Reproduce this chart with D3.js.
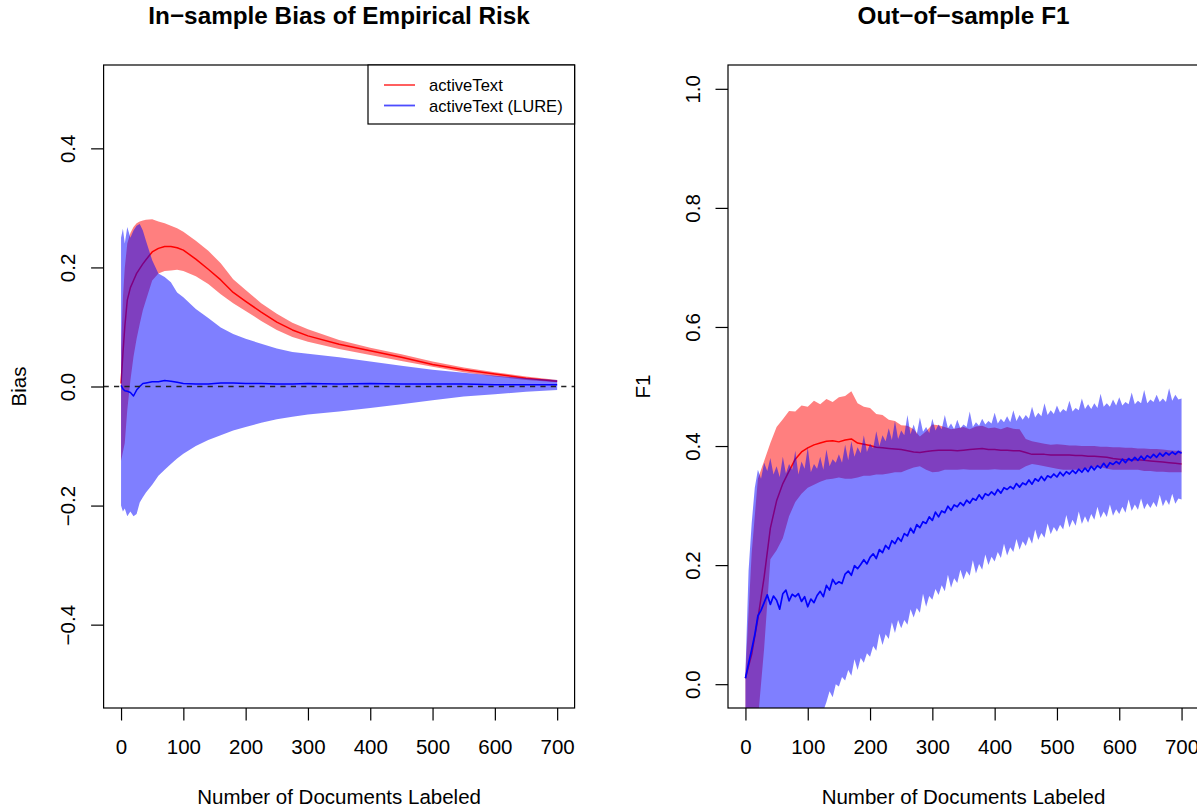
<!DOCTYPE html>
<html><head><meta charset="utf-8">
<script src="https://cdn.jsdelivr.net/npm/d3@7"></script>
<style>
body{margin:0;background:#fff}
svg{display:block}
text{font-family:"Liberation Sans",Arial,Helvetica,sans-serif;fill:#000}
</style>
</head><body>
<svg id="c" width="1197" height="808"></svg>
<script>
// ---------------- DATA ----------------
const xTicks = [0,100,200,300,400,500,600,700];
const leftYTicks = [-0.4,-0.2,0.0,0.2,0.4];
const rightYTicks = [0.0,0.2,0.4,0.6,0.8,1.0];
const legendLabels = ["activeText","activeText (LURE)"];

// Left panel: in-sample bias
const docsLeft = [0,3,6,10,15,20,25,30,35,40,50,60,70,80,90,100,120,140,160,180,200,225,250,275,300,350,400,450,500,550,600,650,700];
const leftRedMean  = [0.005,0.055,0.10,0.145,0.166,0.178,0.19,0.198,0.206,0.213,0.226,0.232,0.235,0.235,0.233,0.229,0.214,0.197,0.179,0.158,0.143,0.125,0.108,0.095,0.085,0.071,0.06,0.049,0.037,0.028,0.021,0.014,0.009];
const leftRedUpper = [0.06,0.15,0.2,0.24,0.258,0.268,0.274,0.277,0.279,0.28,0.281,0.277,0.274,0.27,0.266,0.26,0.245,0.228,0.207,0.18,0.162,0.14,0.122,0.107,0.096,0.078,0.065,0.054,0.042,0.032,0.024,0.017,0.011];
const leftRedLower = [-0.125,-0.11,-0.095,-0.04,0.01,0.05,0.08,0.105,0.128,0.145,0.178,0.19,0.194,0.195,0.196,0.194,0.185,0.172,0.155,0.14,0.127,0.11,0.095,0.083,0.075,0.063,0.053,0.043,0.033,0.024,0.017,0.011,0.007];
const leftBlueMean  = [0.002,-0.004,-0.007,-0.008,-0.01,-0.016,-0.006,0.0,0.005,0.006,0.008,0.008,0.01,0.009,0.007,0.005,0.004,0.004,0.006,0.006,0.005,0.005,0.004,0.004,0.005,0.004,0.005,0.004,0.004,0.004,0.003,0.003,0.003];
const leftBlueUpper = [0.25,0.265,0.24,0.268,0.25,0.262,0.27,0.273,0.262,0.245,0.212,0.19,0.184,0.175,0.158,0.15,0.13,0.115,0.099,0.088,0.08,0.072,0.064,0.058,0.055,0.049,0.042,0.035,0.028,0.023,0.018,0.014,0.011];
const leftBlueLower = [-0.20,-0.21,-0.205,-0.218,-0.21,-0.218,-0.214,-0.195,-0.186,-0.178,-0.165,-0.15,-0.14,-0.13,-0.121,-0.113,-0.1,-0.09,-0.082,-0.074,-0.068,-0.061,-0.055,-0.051,-0.047,-0.042,-0.036,-0.03,-0.023,-0.017,-0.013,-0.009,-0.006];

// Right panel: out-of-sample F1
const docsStep10 = d3.range(0, 701, 10);
const docsStep5 = d3.range(0, 701, 5);
const rightRedMean = [
 0.01,0.05,0.11,0.18,0.262,0.308,0.337,0.358,0.378,0.39,
 0.397,0.402,0.405,0.408,0.409,0.407,0.41,0.412,0.405,0.403,
 0.401,0.398,0.397,0.396,0.395,0.394,0.392,0.39,0.389,0.391,
 0.392,0.393,0.393,0.393,0.392,0.393,0.394,0.395,0.396,0.394,
 0.394,0.393,0.393,0.392,0.392,0.389,0.386,0.386,0.386,0.385,
 0.385,0.385,0.385,0.384,0.384,0.383,0.383,0.382,0.381,0.379,
 0.378,0.377,0.377,0.377,0.376,0.375,0.374,0.373,0.372,0.371,
 0.37];
const rightRedUpper = [
 0.02,0.22,0.345,0.375,0.405,0.432,0.445,0.459,0.458,0.468,
 0.466,0.476,0.47,0.479,0.474,0.482,0.484,0.492,0.472,0.466,
 0.464,0.454,0.452,0.444,0.442,0.435,0.434,0.428,0.416,0.425,
 0.436,0.435,0.432,0.428,0.43,0.432,0.428,0.433,0.434,0.43,
 0.431,0.428,0.432,0.429,0.428,0.412,0.408,0.406,0.404,0.402,
 0.403,0.402,0.401,0.401,0.4,0.4,0.4,0.399,0.399,0.398,
 0.398,0.397,0.397,0.396,0.396,0.395,0.395,0.394,0.393,0.392,
 0.392];
const rightRedLower = [
 -0.15,-0.09,-0.06,0.06,0.21,0.225,0.245,0.282,0.306,0.32,
 0.33,0.335,0.34,0.344,0.345,0.347,0.345,0.345,0.347,0.35,
 0.35,0.352,0.352,0.354,0.356,0.356,0.36,0.364,0.366,0.36,
 0.356,0.357,0.36,0.36,0.36,0.361,0.36,0.36,0.36,0.36,
 0.361,0.36,0.36,0.36,0.36,0.366,0.37,0.368,0.366,0.364,
 0.362,0.36,0.36,0.36,0.36,0.362,0.364,0.365,0.362,0.36,
 0.36,0.36,0.36,0.36,0.358,0.358,0.357,0.357,0.356,0.356,
 0.356];
const rightBlueMean = [
 0.010,0.035,0.058,0.083,0.115,0.124,0.137,0.150,0.134,0.148,
 0.141,0.126,0.152,0.158,0.140,0.151,0.147,0.152,0.139,0.147,
 0.130,0.143,0.137,0.149,0.156,0.147,0.166,0.158,0.176,0.168,
 0.172,0.169,0.185,0.190,0.183,0.199,0.194,0.201,0.209,0.202,
 0.213,0.219,0.211,0.226,0.221,0.233,0.227,0.241,0.236,0.246,
 0.240,0.253,0.249,0.262,0.254,0.268,0.263,0.273,0.270,0.281,
 0.275,0.289,0.281,0.291,0.288,0.299,0.292,0.301,0.298,0.305,
 0.300,0.309,0.304,0.312,0.309,0.318,0.311,0.320,0.317,0.323,
 0.318,0.327,0.321,0.330,0.327,0.332,0.328,0.337,0.331,0.338,
 0.335,0.343,0.336,0.345,0.341,0.349,0.342,0.350,0.347,0.353,
 0.348,0.356,0.350,0.357,0.353,0.359,0.354,0.361,0.356,0.363,
 0.357,0.366,0.360,0.367,0.363,0.371,0.364,0.372,0.369,0.374,
 0.370,0.378,0.372,0.379,0.375,0.381,0.376,0.383,0.377,0.384,
 0.380,0.386,0.381,0.388,0.383,0.389,0.385,0.390,0.386,0.391,
 0.388];
const rightBlueUpper = [
 0.02,0.19,0.27,0.33,0.36,0.345,0.372,0.358,0.38,0.352,
 0.366,0.348,0.382,0.354,0.37,0.36,0.392,0.352,0.374,0.362,
 0.398,0.356,0.37,0.362,0.382,0.36,0.394,0.366,0.378,0.372,
 0.386,0.372,0.402,0.376,0.408,0.382,0.398,0.388,0.418,0.39,
 0.404,0.396,0.425,0.40,0.418,0.408,0.43,0.41,0.442,0.412,
 0.426,0.418,0.452,0.42,0.436,0.42,0.448,0.424,0.432,0.422,
 0.446,0.426,0.436,0.428,0.452,0.43,0.438,0.428,0.444,0.43,
 0.436,0.432,0.458,0.432,0.44,0.434,0.446,0.436,0.442,0.438,
 0.456,0.438,0.446,0.44,0.45,0.44,0.46,0.442,0.452,0.444,
 0.452,0.446,0.466,0.448,0.456,0.45,0.472,0.452,0.46,0.454,
 0.468,0.456,0.462,0.458,0.476,0.458,0.464,0.46,0.48,0.462,
 0.47,0.462,0.472,0.464,0.488,0.466,0.472,0.466,0.478,0.468,
 0.482,0.468,0.474,0.47,0.49,0.47,0.476,0.472,0.494,0.472,
 0.478,0.474,0.486,0.474,0.48,0.474,0.497,0.476,0.486,0.478,
 0.48];
const rightBlueLower = [
 -0.30,-0.28,-0.26,-0.25,-0.24,-0.22,-0.21,-0.20,-0.19,-0.18,
 -0.17,-0.16,-0.15,-0.14,-0.13,-0.125,-0.115,-0.11,-0.10,-0.095,
 -0.085,-0.08,-0.07,-0.065,-0.05,-0.045,-0.03,-0.012,-0.022,0.0,
 -0.004,0.012,0.006,0.024,0.014,0.042,0.024,0.044,0.036,0.052,
 0.046,0.064,0.056,0.085,0.066,0.084,0.076,0.104,0.086,0.108,
 0.094,0.108,0.10,0.126,0.112,0.128,0.12,0.152,0.13,0.148,
 0.142,0.16,0.15,0.166,0.156,0.184,0.162,0.178,0.17,0.192,
 0.176,0.19,0.182,0.208,0.186,0.202,0.192,0.218,0.20,0.214,
 0.206,0.222,0.212,0.236,0.216,0.23,0.222,0.244,0.226,0.24,
 0.232,0.248,0.236,0.26,0.242,0.254,0.246,0.27,0.252,0.264,
 0.256,0.268,0.26,0.284,0.263,0.276,0.266,0.29,0.269,0.282,
 0.271,0.286,0.276,0.298,0.279,0.29,0.281,0.302,0.283,0.294,
 0.286,0.298,0.288,0.31,0.291,0.302,0.293,0.312,0.294,0.304,
 0.296,0.306,0.297,0.318,0.299,0.31,0.301,0.32,0.303,0.312,
 0.31];

// ---------------- DRAWING ----------------
const svg = d3.select("#c");
const TOP = 65, BOTTOM = 708;
const RED_BAND = "rgba(255,0,0,0.5)", BLUE_BAND = "rgba(0,0,255,0.5)";

function drawPanel(cfg) {
  const x = d3.scaleLinear().domain([-28, 728]).range([cfg.left, cfg.left + 471]);
  const span = cfg.ylim[1] - cfg.ylim[0];
  const y = d3.scaleLinear()
    .domain([cfg.ylim[0] - 0.04 * span, cfg.ylim[1] + 0.04 * span])
    .range([BOTTOM, TOP]);
  const g = svg.append("g");
  const clipId = "clip" + cfg.id;
  svg.append("clipPath").attr("id", clipId).append("rect")
    .attr("x", x.range()[0]).attr("y", TOP)
    .attr("width", x.range()[1] - x.range()[0]).attr("height", BOTTOM - TOP);
  const plot = g.append("g").attr("clip-path", `url(#${clipId})`);

  const band = (docs, lo, hi, fill) => {
    const area = d3.area()
      .x((d, i) => x(docs[i]))
      .y0((d, i) => y(lo[i]))
      .y1((d, i) => y(hi[i]));
    plot.append("path").datum(docs).attr("d", area).attr("fill", fill).attr("stroke", "none");
  };
  const line = (docs, vals, col, w) => {
    const ln = d3.line().x((d, i) => x(docs[i])).y((d, i) => y(vals[i]));
    plot.append("path").datum(docs).attr("d", ln).attr("fill", "none")
      .attr("stroke", col).attr("stroke-width", w).attr("stroke-linejoin", "round");
  };

  band(cfg.red.docs, cfg.red.lower, cfg.red.upper, RED_BAND);
  line(cfg.red.docs, cfg.red.mean, "#ff0000", 1.5);
  band(cfg.blue.docs, cfg.blue.lower, cfg.blue.upper, BLUE_BAND);
  line(cfg.blue.docs, cfg.blue.mean, "#0000ff", cfg.blueWidth || 1.5);

  if (cfg.zeroLine) {
    plot.append("line").attr("x1", x.range()[0]).attr("x2", x.range()[1])
      .attr("y1", y(0)).attr("y2", y(0))
      .attr("stroke", "#222").attr("stroke-width", 1.3).attr("stroke-dasharray", "5.2,5.2");
  }

  // box
  g.append("rect").attr("x", x.range()[0]).attr("y", TOP)
    .attr("width", x.range()[1] - x.range()[0]).attr("height", BOTTOM - TOP)
    .attr("fill", "none").attr("stroke", "#000").attr("stroke-width", 1.2);

  // x axis
  const xa = g.append("g").attr("transform", `translate(0,${BOTTOM})`)
    .call(d3.axisBottom(x).tickValues(xTicks).tickSize(12.5).tickSizeOuter(0).tickFormat(d3.format("d")));
  xa.select(".domain").remove();
  xa.selectAll(".tick line").attr("stroke", "#000").attr("stroke-width", 1.2);
  xa.selectAll(".tick text").attr("y", 46).attr("dy", 0)
    .style("font-size", "20.5px").style("font-family", "Liberation Sans, Arial, sans-serif");

  // y axis
  const ya = g.append("g").attr("transform", `translate(${x.range()[0]},0)`)
    .call(d3.axisLeft(y).tickValues(cfg.yTicks).tickSize(12.5).tickSizeOuter(0).tickFormat(d3.format(".1f")));
  ya.select(".domain").remove();
  ya.selectAll(".tick line").attr("stroke", "#000").attr("stroke-width", 1.2);
  ya.selectAll(".tick text")
    .attr("x", 0).attr("y", -28.5).attr("dy", 0)
    .attr("transform", "rotate(-90)").attr("text-anchor", "middle")
    .style("font-size", "20.5px").style("font-family", "Liberation Sans, Arial, sans-serif");

  const cx = (x.range()[0] + x.range()[1]) / 2;
  g.append("text").attr("x", cx).attr("y", 24).attr("text-anchor", "middle")
    .style("font-size", "24.3px").style("font-weight", "bold").text(cfg.title);
  g.append("text").attr("x", cx).attr("y", 804).attr("text-anchor", "middle")
    .style("font-size", "20.5px").text("Number of Documents Labeled");
  g.append("text").attr("transform", `translate(${x.range()[0] - 78},${(TOP + BOTTOM) / 2}) rotate(-90)`)
    .attr("text-anchor", "middle").style("font-size", "20.5px").text(cfg.ylabel);

  if (cfg.legend) {
    const lx0 = 368, lx1 = x.range()[1], ly0 = TOP, ly1 = 124;
    g.append("rect").attr("x", lx0).attr("y", ly0).attr("width", lx1 - lx0).attr("height", ly1 - ly0)
      .attr("fill", "#fff").attr("stroke", "#000").attr("stroke-width", 1.2);
    const cols = ["#ff4d4d", "#4d4dff"];
    legendLabels.forEach((lab, i) => {
      const yy = 85 + i * 20.5;
      g.append("line").attr("x1", 384).attr("x2", 415).attr("y1", yy).attr("y2", yy)
        .attr("stroke", cols[i]).attr("stroke-width", 1.8);
      g.append("text").attr("x", 429).attr("y", yy + 6).style("font-size", "16.6px").text(lab);
    });
  }
}

drawPanel({
  id: "L", left: 103.6, ylim: [-0.5, 0.5], yTicks: leftYTicks,
  title: "In\u2212sample Bias of Empirical Risk", ylabel: "Bias",
  red: { docs: docsLeft, mean: leftRedMean, upper: leftRedUpper, lower: leftRedLower },
  blue: { docs: docsLeft, mean: leftBlueMean, upper: leftBlueUpper, lower: leftBlueLower },
  zeroLine: true, legend: true
});
drawPanel({
  id: "R", left: 728, ylim: [0, 1], yTicks: rightYTicks,
  title: "Out\u2212of\u2212sample F1", ylabel: "F1",
  red: { docs: docsStep10, mean: rightRedMean, upper: rightRedUpper, lower: rightRedLower },
  blue: { docs: docsStep5, mean: rightBlueMean, upper: rightBlueUpper, lower: rightBlueLower },
  blueWidth: 1.7, zeroLine: false, legend: false
});
</script>
</body></html>
